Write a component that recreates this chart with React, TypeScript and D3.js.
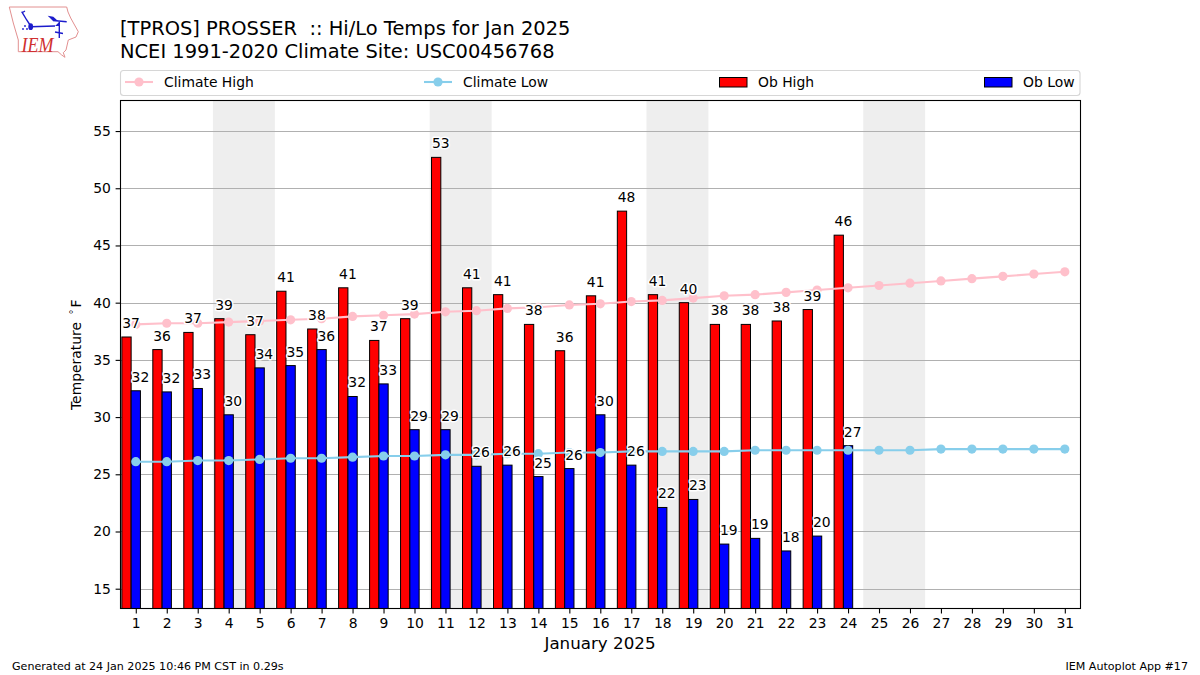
import React, { useEffect, useRef } from "react";
import * as d3 from "d3";

const days = d3.range(1, 32);
const obHigh = [37.0, 35.9, 37.4, 38.6, 37.2, 41.0, 37.7, 41.3, 36.7, 38.6, 52.7, 41.3, 40.7, 38.1, 35.8, 40.6, 48.0, 40.7, 40.0, 38.1, 38.1, 38.4, 39.4, 45.9];
const obHighLabels = [37, 36, 37, 39, 37, 41, 38, 41, 37, 39, 53, 41, 41, 38, 36, 41, 48, 41, 40, 38, 38, 38, 39, 46];
const obLow = [32.3, 32.2, 32.5, 30.2, 34.3, 34.5, 35.9, 31.8, 32.9, 28.9, 28.9, 25.7, 25.8, 24.8, 25.5, 30.2, 25.8, 22.1, 22.8, 18.9, 19.4, 18.3, 19.6, 27.5];
const obLowLabels = [32, 32, 33, 30, 34, 35, 36, 32, 33, 29, 29, 26, 26, 25, 26, 30, 26, 22, 23, 19, 19, 18, 20, 27];
const climHigh = [38.1, 38.2, 38.2, 38.3, 38.4, 38.5, 38.6, 38.8, 38.9, 39.0, 39.2, 39.3, 39.5, 39.6, 39.8, 39.9, 40.1, 40.2, 40.4, 40.6, 40.7, 40.9, 41.1, 41.3, 41.5, 41.7, 41.9, 42.1, 42.3, 42.5, 42.7];
const climLow = [26.1, 26.1, 26.2, 26.2, 26.3, 26.4, 26.4, 26.5, 26.6, 26.6, 26.7, 26.7, 26.8, 26.8, 26.9, 26.9, 27.0, 27.0, 27.0, 27.0, 27.1, 27.1, 27.1, 27.1, 27.1, 27.1, 27.2, 27.2, 27.2, 27.2, 27.2];
const weekendStarts = [4, 11, 18, 25];
const yTicks = [15, 20, 25, 30, 35, 40, 45, 50, 55];
const titleLines = ["[TPROS] PROSSER  :: Hi/Lo Temps for Jan 2025", "NCEI 1991-2020 Climate Site: USC00456768"];

const FONT = "'DejaVu Sans', sans-serif";

export default function App() {
  const ref = useRef<SVGSVGElement | null>(null);
  useEffect(() => {
    const svg = d3.select(ref.current!);
    svg.selectAll("*").remove();
    const L = 120, R = 1080, T = 100.5, B = 608.5;
    const x = d3.scaleLinear().domain([0.5, 31.5]).range([L + 0.3, R + 0.3]);
    const y = d3.scaleLinear().domain([13.27, 57.67]).range([B, T]);
    const bw = x(1.3) - x(1);
    const g = svg.append("g").attr("font-family", FONT).attr("fill", "#000");

    // weekend bands
    g.selectAll(".wk").data(weekendStarts).join("rect")
      .attr("x", d => x(d - 0.5) - 0.3).attr("width", d => x(d + 1.5) - x(d - 0.5))
      .attr("y", T).attr("height", B - T).attr("fill", "#eeeeee");
    // grid
    g.selectAll(".grid").data(yTicks).join("line")
      .attr("x1", L).attr("x2", R).attr("y1", d => Math.round(y(d)) + 0.5).attr("y2", d => Math.round(y(d)) + 0.5)
      .attr("stroke", "#b0b0b0").attr("stroke-width", 1.1);
    // bars
    g.selectAll(".hi").data(obHigh).join("rect")
      .attr("x", (_, i) => x(days[i] - 0.45)).attr("width", bw)
      .attr("y", d => y(d)).attr("height", d => B - y(d))
      .attr("fill", "#ff0000").attr("stroke", "#000").attr("stroke-width", 1);
    g.selectAll(".lo").data(obLow).join("rect")
      .attr("x", (_, i) => x(days[i] - 0.15)).attr("width", bw)
      .attr("y", d => y(d)).attr("height", d => B - y(d))
      .attr("fill", "#0000ff").attr("stroke", "#000").attr("stroke-width", 1);

    // climate lines
    const line = d3.line<number>().x((_, i) => x(days[i])).y(d => y(d));
    const drawClim = (vals: number[], color: string) => {
      g.append("path").attr("d", line(vals)!).attr("fill", "none")
        .attr("stroke", color).attr("stroke-width", 2.08);
      g.append("g").selectAll("circle").data(vals).join("circle")
        .attr("cx", (_, i) => x(days[i])).attr("cy", d => y(d)).attr("r", 4.6).attr("fill", color);
    };
    drawClim(climHigh, "#ffc0cb");
    drawClim(climLow, "#87ceeb");

    // value labels
    const labels = (vals: number[], texts: number[], off: number) => {
      g.append("g").selectAll("text").data(vals).join("text")
        .attr("x", (_, i) => x(days[i] + off)).attr("y", d => y(d) - 9)
        .attr("text-anchor", "middle").attr("font-size", 13.9)
        .attr("stroke", "#fff").attr("stroke-width", 3).attr("paint-order", "stroke")
        .attr("stroke-linejoin", "round")
        .text((_, i) => texts[i]);
    };
    labels(obHigh, obHighLabels, -0.15);
    labels(obLow, obLowLabels, 0.15);

    // axes
    const xAxis = d3.axisBottom(x).tickValues(days).tickFormat(d3.format("d") as any).tickSize(4.9).tickSizeOuter(0).tickPadding(4.8);
    const gx = g.append("g").attr("transform", `translate(0,${B})`).call(xAxis);
    const yAxis = d3.axisLeft(y).tickValues(yTicks).tickFormat(d3.format("d") as any).tickSize(4.9).tickSizeOuter(0).tickPadding(4.8);
    const gy = g.append("g").attr("transform", `translate(${L + 0.5},0)`).call(yAxis);
    [gx, gy].forEach(a => {
      a.attr("font-family", FONT).attr("font-size", 13.9);
      a.selectAll("text").attr("fill", "#000");
      a.selectAll("line").attr("stroke", "#000").attr("stroke-width", 1.1);
      a.select(".domain").remove();
    });
    g.append("rect").attr("x", L + 0.5).attr("y", T).attr("width", R - L).attr("height", B - T)
      .attr("fill", "none").attr("stroke", "#000").attr("stroke-width", 1.1);

    // axis titles
    g.append("text").attr("x", 600).attr("y", 649).attr("text-anchor", "middle").attr("font-size", 16.7).text("January 2025");
    const yl = g.append("text").attr("transform", "translate(81,410) rotate(-90)").attr("font-size", 13.9).style("white-space", "pre");
    yl.append("tspan").text("Temperature ");
    yl.append("tspan").attr("dx", 3.1).attr("dy", -4.5).attr("font-size", 10).text("\u00b0");
    yl.append("tspan").attr("dx", 2).attr("dy", 4.5).text("F");

    // title
    titleLines.forEach((t, i) => {
      g.append("text").attr("x", 120).attr("y", 35 + i * 23).attr("font-size", 19.45).style("white-space", "pre").text(t);
    });

    // legend
    g.append("rect").attr("x", 120.5).attr("y", 70.5).attr("width", 959.5).attr("height", 25).attr("rx", 3)
      .attr("fill", "#fff").attr("stroke", "#d6d6d6").attr("stroke-width", 1.1);
    const legendY = 82;
    const legendLines = [
      { x0: 125, label: "Climate High", color: "#ffc0cb" },
      { x0: 424, label: "Climate Low", color: "#87ceeb" },
    ];
    legendLines.forEach(d => {
      g.append("line").attr("x1", d.x0).attr("x2", d.x0 + 28).attr("y1", legendY).attr("y2", legendY).attr("stroke", d.color).attr("stroke-width", 2.08);
      g.append("circle").attr("cx", d.x0 + 14).attr("cy", legendY).attr("r", 4.6).attr("fill", d.color);
      g.append("text").attr("x", d.x0 + 39).attr("y", legendY + 4.5).attr("font-size", 13.9).text(d.label);
    });
    const legendBars = [
      { x0: 719, label: "Ob High", color: "#ff0000" },
      { x0: 984, label: "Ob Low", color: "#0000ff" },
    ];
    legendBars.forEach(d => {
      g.append("rect").attr("x", d.x0 + 0.5).attr("y", 77.5).attr("width", 27.5).attr("height", 9.5).attr("fill", d.color).attr("stroke", "#000").attr("stroke-width", 1);
      g.append("text").attr("x", d.x0 + 39).attr("y", legendY + 4.5).attr("font-size", 13.9).text(d.label);
    });

    // footer
    g.append("text").attr("x", 12).attr("y", 670).attr("font-size", 11.1).text("Generated at 24 Jan 2025 10:46 PM CST in 0.29s");
    g.append("text").attr("x", 1188).attr("y", 670).attr("text-anchor", "end").attr("font-size", 11.1).text("IEM Autoplot App #17");

    // logo
    const logo = svg.append("g");
    logo.append("path")
      .attr("d", "M9.3 7 L66.7 7 L68 12 L70.7 18 L74 24 L78.3 31.7 L76 37 L68.3 40 L66 50 L63.3 52.7 L65 57.3 L61.7 55 L58 51.7 L18.3 51.7 L18.3 40 L13.3 23 Z")
      .attr("fill", "#fff").attr("stroke", "#e29090").attr("stroke-width", 1);
    const blue = "#1c1ccc";
    logo.append("path").attr("d", "M31 26.7 L55 26 M59.3 21.7 L59.3 38 M55 32 L63 33.5 M53 20.5 L66.7 21.7 M21.7 11.7 L26.7 20 L30.7 26 M21.7 13 L25 11")
      .attr("fill", "none").attr("stroke", blue).attr("stroke-width", 1.4);
    logo.append("path").attr("d", "M47.7 15.7 L53.3 16.7 L58 21 L53 21 Z").attr("fill", blue);
    logo.append("path").attr("d", "M55 26 L59.3 22 L59.3 26 Z").attr("fill", blue);
    logo.append("ellipse").attr("cx", 30.7).attr("cy", 26.7).attr("rx", 2.4).attr("ry", 3.4).attr("fill", blue);
    logo.append("g").selectAll("circle").data([[23, 29], [25, 26], [27, 29]]).join("circle")
      .attr("cx", d => d[0]).attr("cy", d => d[1]).attr("r", 0.9).attr("fill", blue);
    logo.append("text").attr("x", 21.5).attr("y", 51.7).attr("font-family", "'Liberation Serif', serif").attr("font-style", "italic")
      .attr("font-size", 22).attr("fill", "#d03030").attr("textLength", 32).attr("lengthAdjust", "spacingAndGlyphs").text("IEM");
  }, []);
  return <svg ref={ref} width={1200} height={675} style={{ position: "absolute", left: 0, top: 0, background: "#fff" }} />;
}
